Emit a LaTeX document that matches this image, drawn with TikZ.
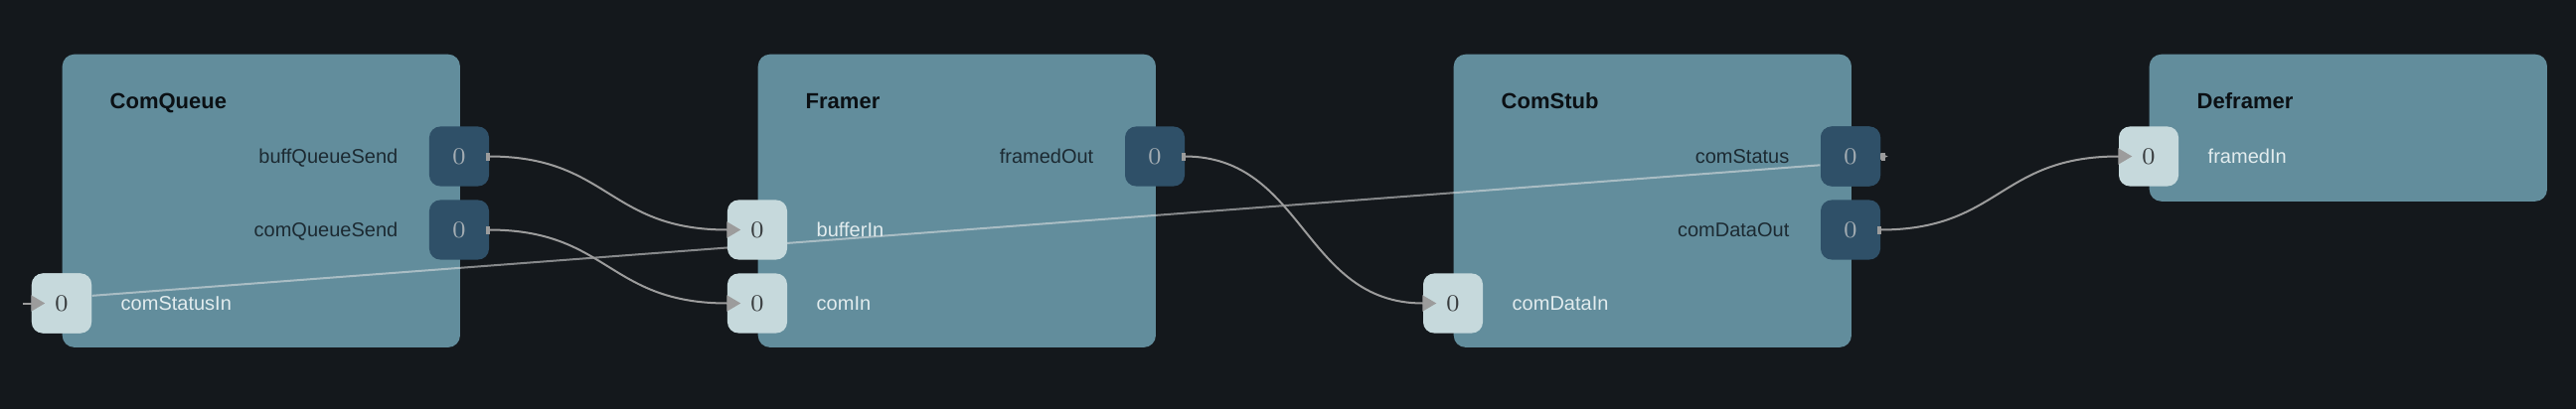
\documentclass[tikz,border=0pt]{standalone}
\usepackage{fontspec}
\usepackage{tikz}
\usetikzlibrary{arrows.meta}
\newfontfamily\portfont{Liberation Sans}

\definecolor{bgdark}{HTML}{14181C}
\definecolor{boxfill}{HTML}{628D9C}
\definecolor{portout}{HTML}{2F5068}
\definecolor{portin}{HTML}{C6D9DC}
\definecolor{wiregray}{HTML}{9C9C9C}
\definecolor{titleink}{HTML}{0B1014}
\definecolor{labdark}{HTML}{1C2A32}
\definecolor{lablight}{HTML}{E2ECEE}
\definecolor{digitout}{HTML}{A4ADB3}
\definecolor{digitin}{HTML}{383C3E}

\tikzset{
  comp/.style={fill=boxfill, rounded corners=0.12cm, anchor=north west,
    minimum width=4cm, minimum height=2.95cm, inner sep=0pt},
  comptitle/.style={anchor=base west, text=titleink, inner sep=0pt,
    font=\portfont\bfseries\fontsize{6.26}{7}\selectfont},
  outport/.style={fill=portout, rounded corners=0.11cm, minimum size=0.6cm,
    inner sep=0pt, text=digitout, font=\fontsize{6.8}{8}\selectfont},
  inport/.style={outport, fill=portin, text=digitin},
  outlabel/.style={anchor=base east, text=labdark, inner sep=0pt,
    font=\portfont\fontsize{5.69}{7}\selectfont},
  inlabel/.style={outlabel, anchor=base west, text=lablight},
  wire/.style={draw=wiregray, line width=0.02cm,
    {Rectangle[length=0.04cm,width=0.08cm]}-{Triangle[length=0.14cm,width=0.16cm]},
    shorten <=-0.04cm, shorten >=-0.14cm}
}

\begin{document}
\begin{tikzpicture}[x=0.01cm, y=-0.01cm]
  % 1. Background and page size
  \fill[bgdark] (0,0) rectangle (2592,412);
  \useasboundingbox (0,0) rectangle (2592,412);

  % 2. Components
  \node[comp] (comQueue) at (62,54) {};
  \node[comp] (framer) at (762,54) {};
  \node[comp] (comStub) at (1462,54) {};
  \node[comp, minimum height=1.48cm] (deframer) at (2162,54) {};

  \node[comptitle] (comQueueTitle) at (110,109) {ComQueue};
  \node[comptitle] (framerTitle) at (810,109) {Framer};
  \node[comptitle] (comStubTitle) at (1510,109) {ComStub};
  \node[comptitle] (deframerTitle) at (2210,109) {Deframer};

  % 3. Status line runs under the ports
  \coordinate (comStatusInStub) at (23,305.5);
  \coordinate (comStatusStub) at (1900,157.5);
  \node[inport] (comStatusIn) at (62,305.5) {0};
  \node[outport] (comStatus) at (1862,157.5) {0};
  \draw[white!80!gray, line width=0.02cm, opacity=0.55]
    (comStatusIn.14) -- (comStatus.196);
  \node[inport] at (comStatusIn) {0};
  \node[outport] at (comStatus) {0};

  % 4. Ports
  \node[outport] (buffQueueSend) at (462,157.5) {0};
  \node[outport] (comQueueSend) at (462,231.5) {0};

  \node[outport] (framedOut) at (1162,157.5) {0};
  \node[inport] (bufferIn) at (762,231.5) {0};
  \node[inport] (comIn) at (762,305.5) {0};

  \node[outport] (comDataOut) at (1862,231.5) {0};
  \node[inport] (comDataIn) at (1462,305.5) {0};

  \node[inport] (framedIn) at (2162,157.5) {0};

  % 5. Port labels
  \node[outlabel] (buffQueueSendLabel) at (401,164.5) {buffQueueSend};
  \node[outlabel] (comQueueSendLabel) at (401,238.5) {comQueueSend};
  \node[inlabel] (comStatusInLabel) at (121,312.5) {comStatusIn};
  \node[outlabel] (framedOutLabel) at (1101,164.5) {framedOut};
  \node[inlabel] (bufferInLabel) at (821,238.5) {bufferIn};
  \node[inlabel] (comInLabel) at (821,312.5) {comIn};
  \node[outlabel] (comStatusLabel) at (1801,164.5) {comStatus};
  \node[outlabel] (comDataOutLabel) at (1801,238.5) {comDataOut};
  \node[inlabel] (comDataInLabel) at (1521,312.5) {comDataIn};
  \node[inlabel] (framedInLabel) at (2221,164.5) {framedIn};

  % 6. Connections
  \draw[wire] (buffQueueSend.east) .. controls +(120,0) and +(-120,0) .. (bufferIn.west);
  \draw[wire] (comQueueSend.east) .. controls +(120,0) and +(-120,0) .. (comIn.west);
  \draw[wire] (framedOut.east) .. controls +(120,0) and +(-120,0) .. (comDataIn.west);
  \draw[wire] (comDataOut.east) .. controls +(120,0) and +(-120,0) .. (framedIn.west);

  \draw[wire, -{Triangle[length=0.14cm,width=0.16cm]}, shorten <=0pt]
    (comStatusInStub) -- (comStatusIn.west);
  \draw[wire, {Rectangle[length=0.04cm,width=0.08cm]}-{Triangle[length=0.08cm,width=0.06cm]},
    shorten >=0pt] (comStatus.east) -- (comStatusStub);
\end{tikzpicture}
\end{document}
